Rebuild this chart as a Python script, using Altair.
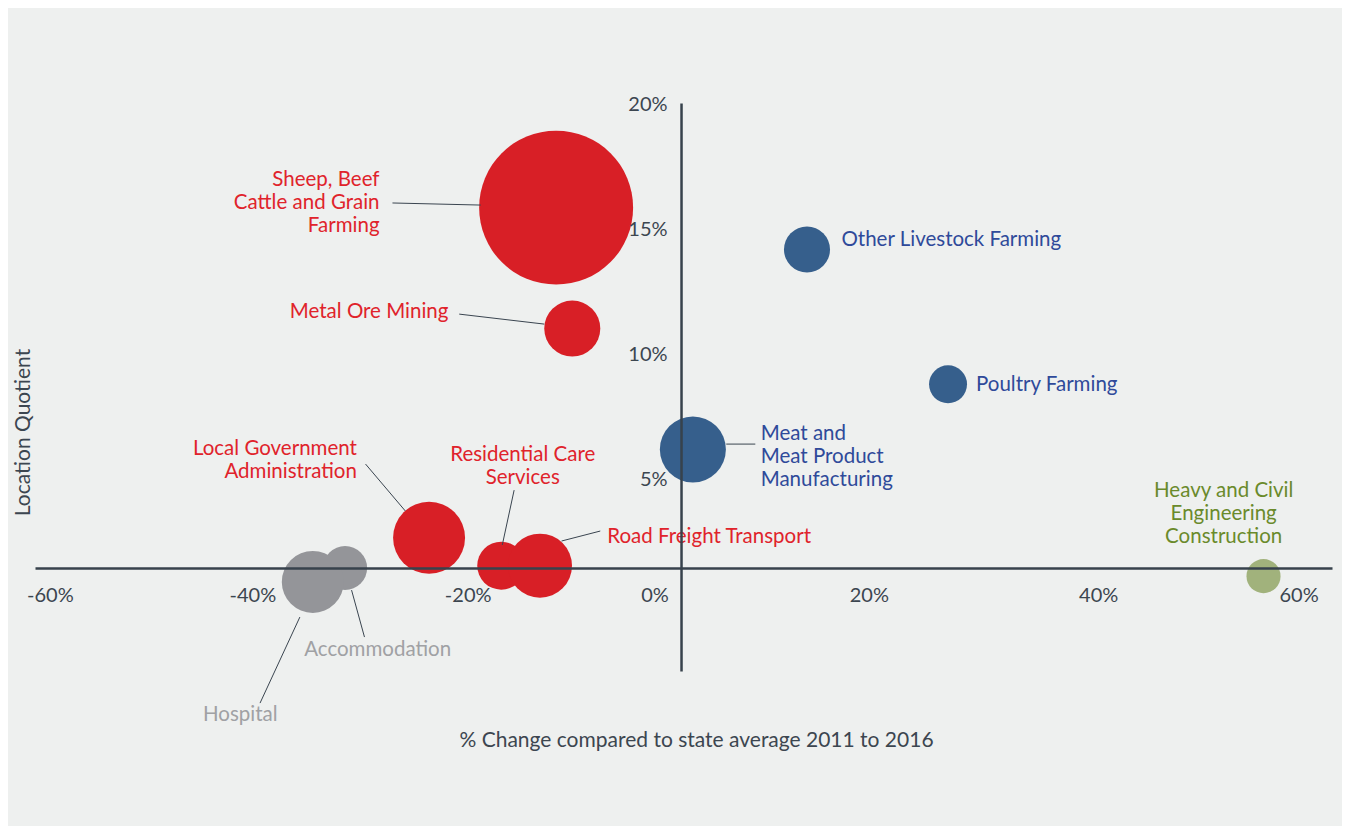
import altair as alt
import pandas as pd

# ---- data ----
industries = [
    "Sheep, Beef Cattle and Grain Farming",
    "Metal Ore Mining",
    "Other Livestock Farming",
    "Poultry Farming",
    "Meat and Meat Product Manufacturing",
    "Local Government Administration",
    "Residential Care Services",
    "Road Freight Transport",
    "Accommodation",
    "Hospital",
    "Heavy and Civil Engineering Construction",
]
pct_change = [-11.6, -10.1, 11.7, 24.8, 1.1, -23.4, -16.7, -13.1, -31.2, -34.2, 54.1]
location_quotient = [15.5, 10.3, 13.7, 7.9, 5.1, 1.3, 0.1, 0.1, 0.0, -0.6, -0.35]
employment = [2370, 314, 212, 144, 436, 518, 230, 410, 194, 384, 116]
group = ["red", "red", "blue", "blue", "blue", "red", "red", "red", "grey", "grey", "green"]

label_text = [
    "Sheep, Beef\nCattle and Grain\nFarming",
    "Metal Ore Mining",
    "Other Livestock Farming",
    "Poultry Farming",
    "Meat and\nMeat Product\nManufacturing",
    "Local Government\nAdministration",
    "Residential Care\nServices",
    "Road Freight Transport",
    "Accommodation",
    "Hospital",
    "Heavy and Civil\nEngineering\nConstruction",
]
# anchor of the first line of each label
label_x = [-28.0, -21.6, 14.9, 27.4, 7.4, -30.1, -14.7, -6.85, -35.0, -44.4, 50.4]
label_y = [16.69, 11.01, 14.11, 7.87, 5.76, 5.12, 4.86, 1.33, -3.53, -6.32, 3.31]
label_side = ["right", "right", "left", "left", "left", "right", "center", "left", "left", "left", "center"]

leader_x1 = [-26.8, -20.6, None, None, 4.2, -29.3, -15.5, -7.5, -29.4, -39.1, None]
leader_y1 = [15.70, 10.92, None, None, 5.33, 4.47, 3.35, 1.59, -2.97, -5.81, None]
leader_x2 = [-18.6, -12.7, None, None, 6.9, -25.6, -16.6, -11.1, -30.6, -35.4, None]
leader_y2 = [15.61, 10.49, None, None, 5.33, 2.45, 0.99, 1.16, -0.95, -2.11, None]

x_ticks = [-60, -40, -20, 0, 20, 40, 60]
y_ticks = [5, 10, 15, 20]

groups = ["red", "blue", "grey", "green"]
bubble_colors = ["#d81f26", "#365f8c", "#949599", "#a1b27c"]
text_colors = ["#e0232b", "#2f4a9a", "#a0a1a4", "#6a8a2b"]

# ---- layout ----
W, H = 1297, 568
X_DOM = [-60, 60.46]
Y_DOM = [-4.43, 20]
Y_LABEL_DOM = [-2.68, 20.04]
AXIS_COLOR = "#37424c"
TEXT_DARK = "#3c4650"
FONT = "Lato"

x_zero_px = W * (0 - X_DOM[0]) / (X_DOM[1] - X_DOM[0])
y_zero_from_bottom = H * (0 - Y_DOM[0]) / (Y_DOM[1] - Y_DOM[0])

df = pd.DataFrame({
    "industry": industries, "change": pct_change, "lq": location_quotient,
    "jobs": employment, "group": group,
})
ann = pd.DataFrame({
    "industry": industries, "label": label_text, "lx": label_x, "ly": label_y,
    "side": label_side, "group": group,
})
lead = pd.DataFrame({
    "x1": leader_x1, "y1": leader_y1, "x2": leader_x2, "y2": leader_y2,
}).dropna()

x_scale = alt.Scale(domain=X_DOM, nice=False, zero=False)
y_scale = alt.Scale(domain=Y_DOM, nice=False, zero=False)

x_axis = alt.Axis(
    orient="bottom", offset=-y_zero_from_bottom, values=x_ticks,
    labelExpr="datum.value + '%'", labelFlush=True,
    labelOffset={"expr": "datum.value == 0 ? -26.5 : datum.value == 20 ? -27.5 : datum.value == 40 ? -13.5 : datum.value == 60 ? -28.5 : datum.value == -60 ? -8.5 : 2"},
    ticks=False, grid=False, domainColor=AXIS_COLOR, domainWidth=2.5,
    labelFont=FONT, labelFontSize=20, labelColor=TEXT_DARK, labelPadding=17,
    title="% Change compared to state average 2011 to 2016",
    titleX=661, titleY=161, titleBaseline="top", titleAlign="center",
    titleFont=FONT, titleFontSize=21, titleFontWeight="normal", titleColor=TEXT_DARK,
    zindex=1,
)
y_axis = alt.Axis(
    labels=False, ticks=False, domain=False, grid=False,
    title="Location Quotient", titleX=-2, titleY=329, titleAngle=270,
    titleBaseline="bottom", titleAlign="center",
    titleFont=FONT, titleFontSize=21, titleFontWeight="normal", titleColor=TEXT_DARK,
)

def X(field):
    return alt.X(field, type="quantitative", scale=x_scale, axis=x_axis)

def Y(field):
    return alt.Y(field, type="quantitative", scale=y_scale, axis=y_axis)

bubbles = alt.Chart(df).mark_circle(opacity=1).encode(
    x=X("change"), y=Y("lq"),
    size=alt.Size("jobs:Q", scale=alt.Scale(domain=[0, 2400], range=[0, 24000]), legend=None),
    color=alt.Color("group:N", scale=alt.Scale(domain=groups, range=bubble_colors), legend=None),
    order=alt.Order("idx:Q"),
).transform_window(idx="row_number()")

leaders = alt.Chart(lead).mark_rule(color="#3a4550", strokeWidth=1).encode(
    x=X("x1"), y=Y("y1"), x2="x2", y2="y2",
)

def labels(side):
    return alt.Chart(ann).transform_filter(alt.datum.side == side).mark_text(
        align=side, baseline="middle", font=FONT, fontSize=20.5,
        lineBreak="\n", lineHeight=23,
    ).encode(
        x=X("lx"), y=Y("ly"), text="label:N",
        fill=alt.Fill("group:N", scale=alt.Scale(domain=groups, range=text_colors), legend=None),
    )

inner = alt.layer(bubbles, leaders, labels("right"), labels("left"), labels("center"))

ytick_layer = alt.Chart(pd.DataFrame({"v": y_ticks})).mark_point(opacity=0).encode(
    y=alt.Y("v:Q", scale=alt.Scale(domain=Y_LABEL_DOM, nice=False, zero=False),
            axis=alt.Axis(orient="left", offset=-x_zero_px, values=y_ticks,
                          labelExpr="datum.value + '%'", ticks=False, grid=False,
                          domainColor=AXIS_COLOR, domainWidth=2.5,
                          labelFont=FONT, labelFontSize=20, labelColor=TEXT_DARK,
                          labelPadding=14, title=None, zindex=1)),
)

chart = alt.layer(inner, ytick_layer).resolve_scale(y="independent").properties(
    width=W, height=H,
    autosize=alt.AutoSizeParams(type="none"),
    padding={"left": 27, "top": 95, "right": 10, "bottom": 155},
    background="#eef0ef",
).configure_view(stroke=None)

chart.save("out.html", embed_options={"renderer": "svg", "actions": False})
